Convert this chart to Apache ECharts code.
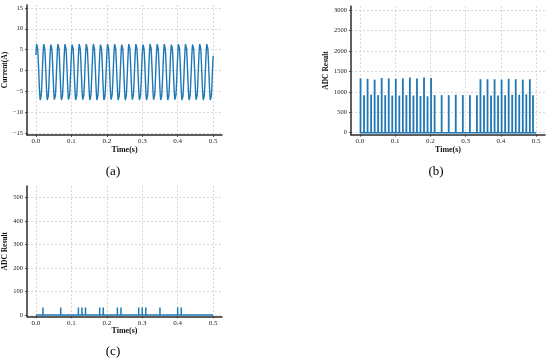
<!DOCTYPE html>
<html>
<head>
<meta charset="utf-8">
<script src="https://cdn.jsdelivr.net/npm/echarts@6/dist/echarts.min.js"></script>
<style>
html,body{margin:0;padding:0;background:#fff;}
#chart{width:550px;height:362px;}
</style>
</head>
<body>
<div id="chart"></div>
<script>
// ---------- DATA ----------
// (a) phase current, sampled every 1 ms from t = 0 to 0.5 s
var currentStep = 0.001;
var currentValues = [
 3.7, 5.3, 6.3, 6.6, 6.2, 5.2, 3.7, 1.8,-0.4,-2.6,-4.5,-6.1,-7.1,-7.4,-7.0,-6.0,-4.5,-2.6,-0.4, 1.8,
 3.7, 5.3, 6.3, 6.6, 6.3, 5.3, 3.7, 1.7,-0.4,-2.6,-4.5,-6.1,-7.1,-7.4,-7.1,-6.1,-4.5,-2.5,-0.4, 1.8,
 3.7, 5.2, 6.2, 6.6, 6.2, 5.2, 3.7, 1.8,-0.4,-2.5,-4.5,-6.0,-7.0,-7.4,-7.0,-6.0,-4.5,-2.6,-0.4, 1.7,
 3.7, 5.3, 6.3, 6.6, 6.3, 5.3, 3.7, 1.8,-0.4,-2.6,-4.5,-6.1,-7.1,-7.4,-7.1,-6.1,-4.5,-2.6,-0.4, 1.8,
 3.7, 5.3, 6.3, 6.6, 6.2, 5.2, 3.7, 1.8,-0.4,-2.6,-4.5,-6.1,-7.0,-7.4,-7.0,-6.0,-4.5,-2.6,-0.4, 1.8,
 3.7, 5.2, 6.2, 6.6, 6.3, 5.3, 3.7, 1.8,-0.4,-2.6,-4.5,-6.1,-7.1,-7.4,-7.1,-6.1,-4.5,-2.6,-0.4, 1.8,
 3.7, 5.3, 6.3, 6.6, 6.3, 5.3, 3.7, 1.7,-0.4,-2.5,-4.5,-6.0,-7.0,-7.4,-7.0,-6.1,-4.5,-2.6,-0.4, 1.8,
 3.7, 5.3, 6.3, 6.6, 6.2, 5.2, 3.7, 1.8,-0.4,-2.6,-4.5,-6.1,-7.1,-7.4,-7.1,-6.1,-4.5,-2.6,-0.4, 1.8,
 3.7, 5.3, 6.3, 6.6, 6.3, 5.3, 3.7, 1.8,-0.4,-2.6,-4.5,-6.1,-7.1,-7.4,-7.0,-6.0,-4.5,-2.6,-0.4, 1.8,
 3.7, 5.2, 6.2, 6.6, 6.2, 5.2, 3.7, 1.8,-0.4,-2.6,-4.5,-6.1,-7.1,-7.4,-7.1,-6.1,-4.5,-2.5,-0.4, 1.8,
 3.7, 5.3, 6.3, 6.6, 6.3, 5.3, 3.7, 1.8,-0.4,-2.6,-4.5,-6.0,-7.0,-7.4,-7.0,-6.0,-4.5,-2.6,-0.4, 1.8,
 3.7, 5.3, 6.3, 6.6, 6.3, 5.3, 3.7, 1.8,-0.4,-2.6,-4.5,-6.1,-7.1,-7.4,-7.1,-6.1,-4.5,-2.6,-0.4, 1.7,
 3.7, 5.3, 6.2, 6.6, 6.2, 5.2, 3.7, 1.8,-0.4,-2.6,-4.5,-6.1,-7.1,-7.4,-7.1,-6.1,-4.5,-2.6,-0.4, 1.8,
 3.7, 5.3, 6.3, 6.6, 6.3, 5.3, 3.7, 1.8,-0.4,-2.5,-4.5,-6.0,-7.0,-7.4,-7.0,-6.0,-4.5,-2.6,-0.4, 1.8,
 3.7, 5.3, 6.3, 6.6, 6.3, 5.3, 3.7, 1.8,-0.4,-2.6,-4.5,-6.1,-7.1,-7.4,-7.1,-6.1,-4.5,-2.6,-0.4, 1.8,
 3.7, 5.2, 6.2, 6.6, 6.2, 5.2, 3.7, 1.8,-0.4,-2.6,-4.5,-6.1,-7.1,-7.4,-7.1,-6.1,-4.5,-2.6,-0.4, 1.8,
 3.7, 5.3, 6.3, 6.6, 6.3, 5.3, 3.7, 1.7,-0.4,-2.6,-4.5,-6.1,-7.0,-7.4,-7.0,-6.0,-4.5,-2.6,-0.4, 1.8,
 3.7, 5.3, 6.3, 6.6, 6.3, 5.3, 3.7, 1.8,-0.4,-2.6,-4.5,-6.1,-7.1,-7.4,-7.1,-6.1,-4.5,-2.5,-0.4, 1.8,
 3.7, 5.3, 6.3, 6.6, 6.2, 5.2, 3.7, 1.8,-0.4,-2.6,-4.5,-6.1,-7.1,-7.4,-7.1,-6.1,-4.5,-2.6,-0.4, 1.8,
 3.7, 5.2, 6.2, 6.6, 6.3, 5.3, 3.7, 1.8,-0.4,-2.5,-4.5,-6.0,-7.0,-7.4,-7.0,-6.0,-4.5,-2.6,-0.4, 1.8,
 3.7, 5.3, 6.3, 6.7, 6.3, 5.3, 3.7, 1.8,-0.4,-2.6,-4.5,-6.1,-7.1,-7.4,-7.1,-6.1,-4.5,-2.6,-0.4, 1.7,
 3.7, 5.3, 6.3, 6.6, 6.3, 5.3, 3.7, 1.8,-0.4,-2.6,-4.5,-6.1,-7.1,-7.4,-7.1,-6.1,-4.5,-2.6,-0.4, 1.8,
 3.7, 5.3, 6.2, 6.6, 6.2, 5.2, 3.7, 1.8,-0.4,-2.6,-4.5,-6.1,-7.0,-7.4,-7.0,-6.0,-4.5,-2.6,-0.4, 1.8,
 3.7, 5.3, 6.3, 6.6, 6.3, 5.3, 3.7, 1.8,-0.4,-2.6,-4.5,-6.1,-7.1,-7.4,-7.1,-6.1,-4.5,-2.6,-0.4, 1.8,
 3.7, 5.3, 6.3, 6.6, 6.3, 5.3, 3.7, 1.8,-0.4,-2.6,-4.5,-6.1,-7.1,-7.4,-7.1,-6.1,-4.5,-2.6,-0.4, 1.8,
 3.5
];

// (b) ADC result pulses (time in s, value)
var adcBTimes = [
 0.002, 0.012, 0.022, 0.032, 0.042, 0.052, 0.062, 0.072, 0.082, 0.092,
 0.102, 0.112, 0.122, 0.132, 0.142, 0.152, 0.162, 0.172, 0.182, 0.192,
 0.202, 0.212, 0.232, 0.252, 0.272, 0.292, 0.312, 0.332,
 0.342, 0.352, 0.362, 0.372, 0.382, 0.392, 0.402, 0.412, 0.422, 0.432,
 0.442, 0.452, 0.462, 0.472, 0.482, 0.491
];
var adcBValues = [
 1330, 920, 1320, 930, 1300, 920, 1340, 920, 1330, 910,
 1320, 910, 1330, 920, 1350, 910, 1330, 900, 1350, 890,
 1340, 920, 920, 920, 930, 920, 920, 920,
 1310, 920, 1310, 910, 1310, 910, 1300, 920, 1320, 930,
 1310, 930, 1300, 940, 1310, 920
];

// (c) ADC result pulses
var adcCTimes = [0.02, 0.07, 0.12, 0.13, 0.14, 0.18, 0.19, 0.23, 0.24, 0.29, 0.30, 0.31, 0.35, 0.40, 0.41];
var adcCValues = [32, 32, 32, 32, 32, 32, 32, 32, 32, 32, 32, 32, 32, 32, 32];

// baseline (ADC reads zero between pulses)
var baselineTimes = [0.0, 0.5];
var baselineValues = [0, 0];

// tick labels
var timeTicks = [0.0, 0.1, 0.2, 0.3, 0.4, 0.5];
var currentTicks = [-15, -10, -5, 0, 5, 10, 15];
var adcBTicks = [0, 500, 1000, 1500, 2000, 2500, 3000];
var adcCTicks = [0, 100, 200, 300, 400, 500];
var captions = ['(a)', '(b)', '(c)'];

// ---------- CHART ----------
var BLUE = '#1f77b4';
var AXIS = '#2b2b2b';
var FONT = 'Liberation Serif';

function zip(xs, ys) { return xs.map(function (x, i) { return [x, ys[i]]; }); }

var currentData = currentValues.map(function (v, i) { return [+(i * currentStep).toFixed(3), v]; });

function minus(v) { return String(v).replace('-', '\u2212'); }

function xAxisCfg(gridIndex) {
  return {
    type: 'value', gridIndex: gridIndex, min: -0.025, max: 0.525,
    name: 'Time(s)', nameLocation: 'middle', nameGap: 9,
    nameTextStyle: { fontFamily: FONT, fontWeight: 'bold', fontSize: 8, color: '#111' },
    axisLine: { show: true, onZero: false, lineStyle: { color: AXIS, width: 1.5 } },
    axisTick: { show: true, length: 2, lineStyle: { color: AXIS, width: 0.8 }, customValues: timeTicks },
    axisLabel: { customValues: timeTicks, margin: 3, fontFamily: FONT, fontSize: 7, color: '#222',
      formatter: function (v) { return v.toFixed(1); } },
    splitLine: { show: true, lineStyle: { color: '#c8c8c8', width: 0.7, type: [2, 2] } }
  };
}
function yAxisCfg(gridIndex, min, max, ticks, name, gap) {
  return {
    type: 'value', gridIndex: gridIndex, min: min, max: max,
    name: name, nameLocation: 'middle', nameGap: gap,
    nameTextStyle: { fontFamily: FONT, fontWeight: 'bold', fontSize: 7.5, color: '#111' },
    axisLine: { show: true, onZero: false, lineStyle: { color: AXIS, width: 1.5 } },
    axisTick: { show: true, length: 2, lineStyle: { color: AXIS, width: 0.8 }, customValues: ticks },
    axisLabel: { customValues: ticks, margin: 4, fontFamily: FONT, fontSize: 6.5, color: '#222',
      formatter: function (v) { return minus(v); } },
    splitLine: { show: true, lineStyle: { color: '#c8c8c8', width: 0.7, type: [2, 2] } }
  };
}

var chart = echarts.init(document.getElementById('chart'), null, { renderer: 'canvas' });
chart.setOption({
  backgroundColor: '#ffffff',
  animation: false,
  grid: [
    { left: 27, top: 5, width: 195, height: 130 },
    { left: 351, top: 6.2, width: 194, height: 128.5 },
    { left: 27, top: 186, width: 195, height: 130.3 }
  ],
  xAxis: [xAxisCfg(0), xAxisCfg(1), xAxisCfg(2)],
  yAxis: [
    yAxisCfg(0, -15.5, 15.7, currentTicks, 'Current(A)', 14),
    yAxisCfg(1, -50, 3100, adcBTicks, 'ADC Result', 18),
    yAxisCfg(2, -5.5, 550, adcCTicks, 'ADC Result', 15)
  ],
  series: [
    { type: 'line', xAxisIndex: 0, yAxisIndex: 0, data: currentData, showSymbol: false,
      lineStyle: { color: BLUE, width: 1.4 }, silent: true },
    { type: 'line', xAxisIndex: 1, yAxisIndex: 1, data: zip(baselineTimes, baselineValues), showSymbol: false,
      lineStyle: { color: BLUE, width: 1.5 }, silent: true },
    { type: 'bar', xAxisIndex: 1, yAxisIndex: 1, data: zip(adcBTimes, adcBValues), barWidth: 1.8,
      itemStyle: { color: BLUE }, silent: true },
    { type: 'line', xAxisIndex: 2, yAxisIndex: 2, data: zip(baselineTimes, baselineValues), showSymbol: false,
      lineStyle: { color: BLUE, width: 1.5 }, silent: true },
    { type: 'bar', xAxisIndex: 2, yAxisIndex: 2, data: zip(adcCTimes, adcCValues), barWidth: 1.5,
      itemStyle: { color: BLUE }, silent: true }
  ],
  graphic: [
    { type: 'text', x: 113, y: 172, style: { text: captions[0], font: '13px "Liberation Serif"', fill: '#000', textAlign: 'center', textVerticalAlign: 'middle' } },
    { type: 'text', x: 436, y: 172, style: { text: captions[1], font: '13px "Liberation Serif"', fill: '#000', textAlign: 'center', textVerticalAlign: 'middle' } },
    { type: 'text', x: 113, y: 352, style: { text: captions[2], font: '13px "Liberation Serif"', fill: '#000', textAlign: 'center', textVerticalAlign: 'middle' } }
  ]
});
</script>
</body>
</html>
